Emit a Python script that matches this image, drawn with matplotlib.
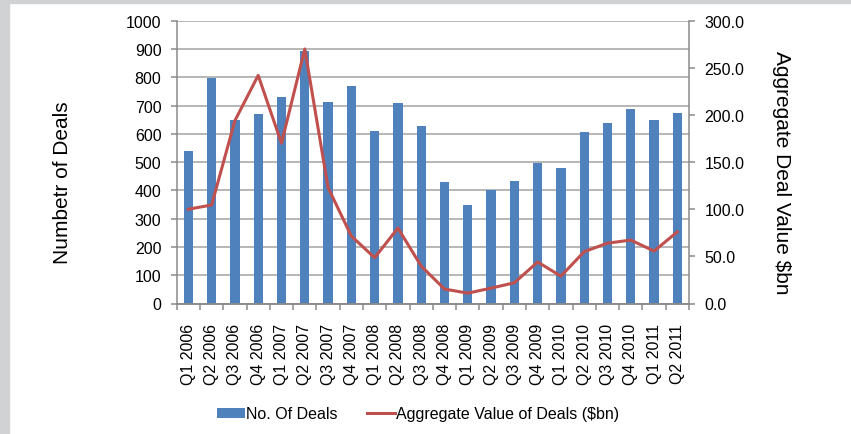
import matplotlib
matplotlib.use("Agg")
import matplotlib.pyplot as plt
from matplotlib.patches import Rectangle
import numpy as np

plt.rcParams['font.family'] = ['Liberation Sans', 'DejaVu Sans']

quarters = ["Q1 2006", "Q2 2006", "Q3 2006", "Q4 2006", "Q1 2007", "Q2 2007",
            "Q3 2007", "Q4 2007", "Q1 2008", "Q2 2008", "Q3 2008", "Q4 2008",
            "Q1 2009", "Q2 2009", "Q3 2009", "Q4 2009", "Q1 2010", "Q2 2010",
            "Q3 2010", "Q4 2010", "Q1 2011", "Q2 2011"]
num_deals = [540, 798, 650, 670, 730, 893, 714, 770, 610, 710, 627, 428,
             347, 400, 434, 498, 480, 605, 639, 688, 650, 673]
agg_value = [100, 104.5, 194, 242, 170, 270, 123, 71.5, 48.6, 80, 39.7, 15.3,
             11, 16.3, 22, 44, 29, 55, 64, 67.3, 55.6, 76]

left_ticks = list(range(0, 1001, 100))
right_ticks = [0, 50, 100, 150, 200, 250, 300]

W, H = 851, 435
fig = plt.figure(figsize=(W / 100, H / 100), dpi=100)
fig.patch.set_facecolor('white')
gray = '#d0d2d4'
fig.patches.append(Rectangle((0, 0), 8.5 / W, 1, transform=fig.transFigure, color=gray, zorder=0))
fig.patches.append(Rectangle((0, 1 - 4.3 / H), 1, 4.3 / H, transform=fig.transFigure, color=gray, zorder=0))

x0, x1 = 176.7, 689
y0, y1 = 304.5, 21.7
ax = fig.add_axes([x0 / W, 1 - y0 / H, (x1 - x0) / W, (y0 - y1) / H])
ax2 = ax.twinx()

xs = np.arange(len(quarters))
bars = ax.bar(xs, num_deals, width=0.4, color='#4F81BD', zorder=2, label='No. Of Deals')
line, = ax2.plot(xs, agg_value, color='#C0504D', lw=2.2, zorder=3,
                 label='Aggregate Value of Deals ($bn)')

ax.set_xlim(-0.5, len(quarters) - 0.5)
ax.set_ylim(0, 1000)
ax2.set_ylim(0, 300)
ax.set_yticks(left_ticks)
ax.set_yticklabels([str(t) for t in left_ticks])
ax2.set_yticks(right_ticks)
ax2.set_yticklabels([f"{t:.1f}" for t in right_ticks])

ax.yaxis.grid(True, color='#a3a3a3', lw=1.1, zorder=0)
ax.set_axisbelow(True)

spine_c = '#8a8a8a'
for a in (ax, ax2):
    a.spines['top'].set_visible(False)
    for s in ('left', 'right', 'bottom'):
        a.spines[s].set_color(spine_c)
        a.spines[s].set_linewidth(1.1)
ax.spines['right'].set_visible(False)
ax2.spines['left'].set_visible(False)

ax.set_xticks(xs)
ax.set_xticklabels(quarters, rotation=90, fontsize=11.5, va='top')
ax.tick_params(axis='x', length=0, pad=14)
ax.set_xticks(np.arange(-0.5, len(quarters)), minor=True)
ax.tick_params(axis='x', which='minor', length=4.5, color=spine_c, width=1.1)

ax.tick_params(axis='y', labelsize=11.5, length=4, color=spine_c, width=1.1, pad=7)
ax2.tick_params(axis='y', labelsize=11.5, length=4, color=spine_c, width=1.1, pad=7)

fig.text(63 / W, 1 - 183 / H, "Numbetr of Deals", rotation=90, fontsize=15,
         ha='center', va='center')
fig.text(782 / W, 1 - 173 / H, "Aggregate Deal Value $bn", rotation=270, fontsize=15,
         ha='center', va='center')

fig.legend(handles=[bars, line], loc='center', bbox_to_anchor=(418 / W, 1 - 415 / H),
           ncol=2, frameon=False, fontsize=11.5, handlelength=1.75, handletextpad=0.1,
           columnspacing=1.8, handleheight=0.6)

fig.savefig('out.png', dpi=100)
